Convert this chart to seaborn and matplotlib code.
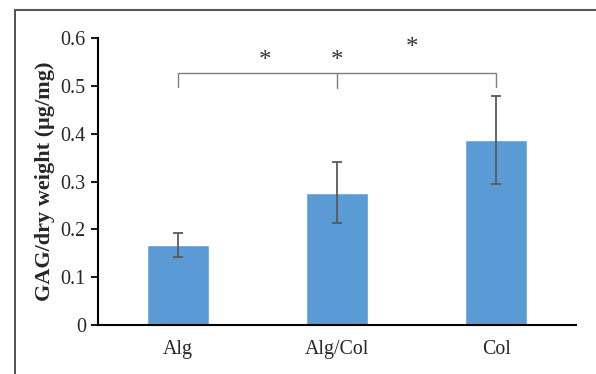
import numpy as np
import matplotlib
matplotlib.use("Agg")
import matplotlib.pyplot as plt
import seaborn as sns
from matplotlib.lines import Line2D

groups = ["Alg", "Alg/Col", "Col"]
gag = [0.167, 0.277, 0.387]
gag_err = [0.025, 0.064, 0.093]
yticks = [0, 0.1, 0.2, 0.3, 0.4, 0.5, 0.6]
star_x = [0.55, 1.0, 1.47]
star_y = [0.552, 0.552, 0.58]

sns.set_theme(style="white")
plt.rcParams["font.family"] = ["Liberation Serif", "DejaVu Serif"]

fig = plt.figure(figsize=(5.96, 3.74), dpi=100)
ax = fig.add_axes([0.165, 0.131, 0.801, 0.767])

sns.barplot(x=groups, y=gag, color="#5B9BD5", saturation=1, width=0.39,
            errorbar=None, ax=ax)
ax.errorbar(np.arange(len(groups)), gag, yerr=gag_err, fmt="none",
            ecolor="#595959", elinewidth=1.3, capsize=3.5, capthick=1.3)

# significance bracket
ax.plot([0, 0, 2, 2], [0.497, 0.527, 0.527, 0.497], color="#7f7f7f", lw=1)
ax.plot([1, 1], [0.527, 0.495], color="#7f7f7f", lw=1)
for sx, sy in zip(star_x, star_y):
    ax.text(sx, sy, "*", ha="center", va="center", fontsize=18, color="#333333")

ax.set_ylim(0, 0.6)
ax.set_xlim(-0.5, 2.5)
ax.set_yticks(yticks)
ax.set_yticklabels(["0"] + [f"{t:.1f}" for t in yticks[1:]])
ax.set_ylabel("GAG/dry weight (μg/mg)", fontsize=16, fontweight="bold", labelpad=4)
ax.set_xlabel("")
ax.tick_params(axis="y", length=5, width=1.3, color="black", labelsize=14.5, pad=4, direction="out", left=True)
ax.tick_params(axis="x", length=0, labelsize=14.3, pad=11)
for s in ["top", "right"]:
    ax.spines[s].set_visible(False)
for s in ["left", "bottom"]:
    ax.spines[s].set_color("black")
    ax.spines[s].set_linewidth(1.5)

# outer frame of the figure
fig.add_artist(Line2D([15 / 596, 15 / 596], [0, 1 - 10 / 374], transform=fig.transFigure,
                      color="#333333", lw=1.2))
fig.add_artist(Line2D([15 / 596, 1], [1 - 10 / 374, 1 - 10 / 374], transform=fig.transFigure,
                      color="#555555", lw=1.5))

fig.savefig("out.png", dpi=100)
